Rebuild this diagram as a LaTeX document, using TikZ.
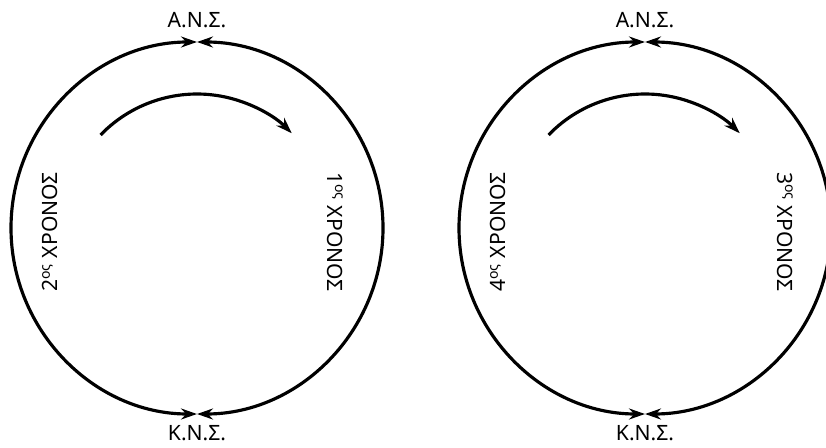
\documentclass[tikz,border=0pt]{standalone}
\usepackage{fontspec}
\setmainfont{Noto Sans}
\usetikzlibrary{arrows.meta}

\tikzset{
  ring/.style={line width=1.8pt, {Stealth[length=3.2mm,width=2.2mm]}-{Stealth[length=3.2mm,width=2.2mm]}},
  turn/.style={line width=1.8pt, -{Stealth[length=3.2mm,width=2.2mm]}},
  lbl/.style={font=\fontsize{12}{14}\selectfont, inner sep=0pt}
}

\begin{document}
\begin{tikzpicture}
        \useasboundingbox (0,0) rectangle (16.52,8.94);
        \clip (0,0) rectangle (16.52,8.94);

        % First year circle
        \coordinate (c1) at (3.94,4.38);
        \draw[ring] (c1) ++(90:3.72) arc (90:-90:3.72);
        \draw[ring] (c1) ++(90:3.72) arc (90:270:3.72);
        \draw[turn] (c1) ++(136:2.68) arc (136:45:2.68);

        \node[lbl] (ans1) at (3.94,8.54) {Α.Ν.Σ.};
        \node[lbl] (kns1) at (3.94,0.27) {Κ.Ν.Σ.};
        \node[lbl, rotate=90] (t2) at (1.00,4.30) {2\textsuperscript{ος} ΧΡΟΝΟΣ};
        \node[lbl, rotate=-90] (t1) at (6.70,4.30) {1\textsuperscript{ος} ΧΡΟΝΟΣ};

        % Second year circle
        \coordinate (c2) at (12.90,4.38);
        \draw[ring] (c2) ++(90:3.72) arc (90:-90:3.72);
        \draw[ring] (c2) ++(90:3.72) arc (90:270:3.72);
        \draw[turn] (c2) ++(136:2.68) arc (136:45:2.68);

        \node[lbl] (ans2) at (12.90,8.54) {Α.Ν.Σ.};
        \node[lbl] (kns2) at (12.90,0.27) {Κ.Ν.Σ.};
        \node[lbl, rotate=90] (t4) at (9.96,4.30) {4\textsuperscript{ος} ΧΡΟΝΟΣ};
        \node[lbl, rotate=-90] (t3) at (15.70,4.30) {3\textsuperscript{ος} ΧΡΟΝΟΣ};
\end{tikzpicture}
\end{document}
